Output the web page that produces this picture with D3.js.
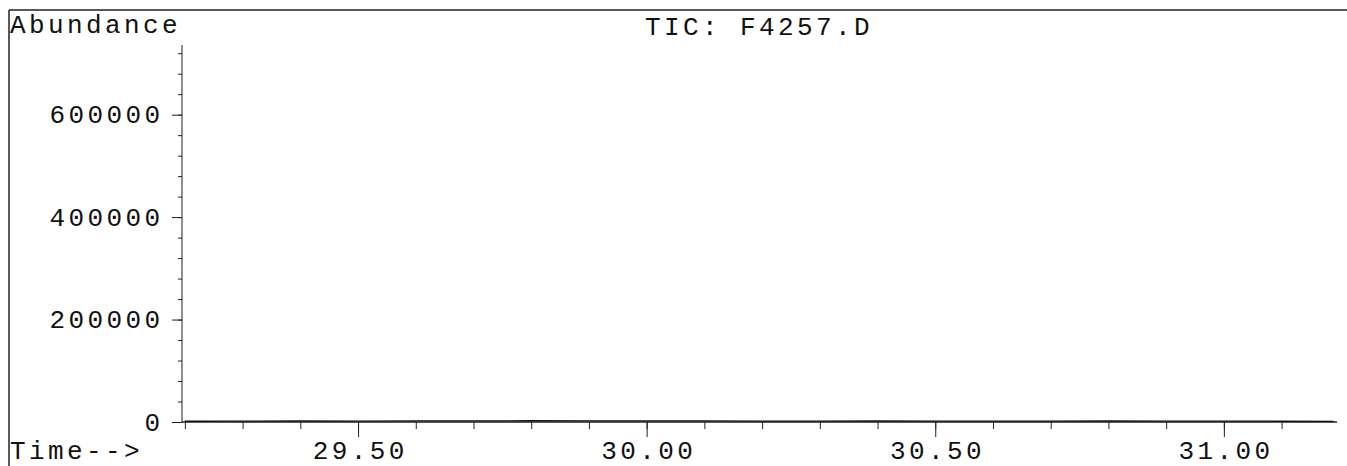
<!DOCTYPE html>
<html>
<head>
<meta charset="utf-8">
<script src="https://cdn.jsdelivr.net/npm/d3@7"></script>
<style>
  html, body { margin: 0; padding: 0; background: #fff; }
  svg { display: block; }
  text { font-family: "Courier New", "Liberation Mono", monospace; fill: #111; }
</style>
</head>
<body>
<svg id="chart"></svg>
<script>
// TIC trace, basically flat near zero over the window
const times = [29.20, 29.30, 29.40, 29.50, 29.60, 29.70, 29.80, 29.90, 30.00, 30.10,
  30.20, 30.30, 30.40, 30.50, 30.60, 30.70, 30.80, 30.90, 31.00, 31.10, 31.19];
const abundance = [1500, 1800, 2000, 1900, 2200, 2100, 2400, 2300, 2100, 2200,
  1900, 1800, 2000, 1700, 1900, 1800, 2000, 1600, 1700, 1500, 1400];
const yTicks = [0, 200000, 400000, 600000];
const xTicks = [29.5, 30.0, 30.5, 31.0];
const title = 'TIC: F4257.D';

const width = 1347;
const height = 466;
const x0 = 182, x1 = 1337, yBase = 422, yTop = 45;

const svg = d3.select('#chart')
  .attr('width', width)
  .attr('height', height);

const xScale = d3.scaleLinear()
  .domain([29.195, 31.196])
  .range([x0, x1]);

const yScale = d3.scaleLinear()
  .domain([0, 736000])
  .range([yBase, yTop]);

const fontSize = 26;
const spacing = '3.4px';

// frame lines
svg.append('line')
  .attr('x1', 9).attr('x2', width).attr('y1', 10).attr('y2', 10)
  .attr('stroke', '#222').attr('stroke-width', 1.5);
svg.append('line')
  .attr('x1', 9).attr('x2', 9).attr('y1', 10).attr('y2', height)
  .attr('stroke', '#222').attr('stroke-width', 1.5);

// minor y ticks
const yMinor = d3.range(0, 720001, 40000);
svg.append('g')
  .attr('transform', `translate(${x0},0)`)
  .call(d3.axisLeft(yScale).tickValues(yMinor).tickSize(4).tickFormat(''))
  .call(g => g.select('.domain').remove());

// major y axis
svg.append('g')
  .attr('transform', `translate(${x0},0)`)
  .call(d3.axisLeft(yScale).tickValues(yTicks).tickSize(10).tickPadding(12).tickFormat(d3.format('d')))
  .call(g => g.select('.domain').attr('d', `M0,${yTop}V${yBase}`))
  .call(g => g.selectAll('text')
    .attr('font-size', fontSize)
    .style('letter-spacing', spacing)
    .attr('dx', 3.4));

// minor x ticks
const xMinor = d3.range(29.2, 31.15, 0.1);
svg.append('g')
  .attr('transform', `translate(0,${yBase})`)
  .call(d3.axisBottom(xScale).tickValues(xMinor).tickSize(7).tickFormat(''))
  .call(g => g.select('.domain').remove());

// major x axis
svg.append('g')
  .attr('transform', `translate(0,${yBase})`)
  .call(d3.axisBottom(xScale).tickValues(xTicks).tickSize(15).tickFormat(d3.format('.2f')))
  .call(g => g.select('.domain').attr('d', `M${x0},0H${x1}`).attr('stroke-width', 1.5))
  .call(g => g.selectAll('text')
    .attr('font-size', fontSize)
    .style('letter-spacing', spacing)
    .attr('y', 37)
    .attr('dy', 0)
    .attr('dx', 1.7));

svg.selectAll('.tick line').attr('stroke', '#222');
svg.selectAll('.domain').attr('stroke', '#222');
svg.selectAll('.tick text').attr('fill', '#111').attr('font-family', null);

// trace
const line = d3.line()
  .x((d, i) => xScale(times[i]))
  .y(d => yScale(d));

svg.append('path')
  .datum(abundance)
  .attr('fill', 'none')
  .attr('stroke', '#111')
  .attr('stroke-width', 1.3)
  .attr('d', line);

// labels
svg.append('text')
  .attr('x', 10).attr('y', 33)
  .attr('font-size', fontSize)
  .style('letter-spacing', spacing)
  .text('Abundance');

svg.append('text')
  .attr('x', 10).attr('y', 459)
  .attr('font-size', fontSize)
  .style('letter-spacing', spacing)
  .text('Time-->');

svg.append('text')
  .attr('x', 645).attr('y', 35)
  .attr('font-size', fontSize)
  .style('letter-spacing', spacing)
  .text(title);
</script>
</body>
</html>
